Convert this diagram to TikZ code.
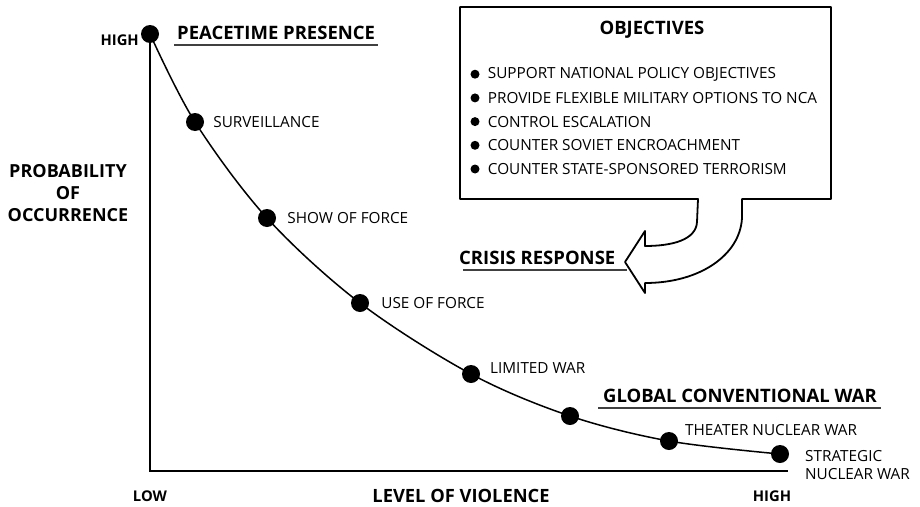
\documentclass[tikz,border=0pt]{standalone}
\usepackage{fontspec}
\setmainfont{Open Sans}
\usetikzlibrary{positioning}

\tikzset{
  dot/.style={circle, fill=black, inner sep=0pt, minimum size=18pt},
  bul/.style={circle, fill=black, inner sep=0pt, minimum size=9pt},
  lbl/.style={font=\fontsize{15.3}{18}\selectfont, inner sep=0pt},
  ttl/.style={font=\bfseries\fontsize{18.5}{22}\selectfont, inner sep=0pt},
  uline/.style={line width=1.1pt, black!75},
}

\begin{document}
\begin{tikzpicture}[x=1pt, y=-1pt]
    \useasboundingbox (0,0) rectangle (920,506);

    % Escalation points
    \node[dot] (high) at (150,34) {};
    \node[dot] (surv) at (195,122) {};
    \node[dot] (show) at (267,218) {};
    \node[dot] (use) at (360,303) {};
    \node[dot] (lim) at (471,374) {};
    \node[dot] (glob) at (570,416) {};
    \node[dot] (thea) at (669,441) {};
    \node[dot] (strat) at (780,454) {};

    % Axes
    \coordinate (origin) at (150,471);
    \coordinate (xend) at (788,471);
    \draw[line width=2pt] (high.center) -- (origin) -- (xend);

    % Curve
    \draw[line width=1.5pt] plot[smooth, tension=0.55] coordinates
        {(high.center) (surv.center) (show.center) (use.center) (lim.center) (glob.center) (thea.center) (strat.center)};

    % Point labels
    \node[lbl, anchor=west, right=9pt of surv] (survlbl) {SURVEILLANCE};
    \node[lbl, anchor=west, right=11pt of show] (showlbl) {SHOW OF FORCE};
    \node[lbl, anchor=west, right=12pt of use] (uselbl) {USE OF FORCE};
    \node[lbl, anchor=west] (limlbl) at (490,368) {LIMITED WAR};
    \node[lbl, anchor=west] (thealbl) at (685,430) {THEATER NUCLEAR WAR};
    \node[lbl, anchor=west, align=left, font=\fontsize{15.3}{17.5}\selectfont] (stratlbl) at (805,465) {STRATEGIC\\NUCLEAR WAR};

    % Phase titles
    \node[ttl, anchor=west] (peace) at (177,33) {PEACETIME PRESENCE};
    \draw[uline] ([xshift=-3pt, yshift=-5pt]peace.south west) -- ([xshift=3pt, yshift=-5pt]peace.south east);
    \node[ttl, anchor=west] (crisis) at (459,258) {CRISIS RESPONSE};
    \draw[uline] ([xshift=4pt, yshift=-5pt]crisis.south west) -- ([xshift=11pt, yshift=-5pt]crisis.south east);
    \node[ttl, anchor=west] (gcw) at (603,396) {GLOBAL CONVENTIONAL WAR};
    \draw[uline] ([xshift=-5pt, yshift=-5pt]gcw.south west) -- ([xshift=4pt, yshift=-5pt]gcw.south east);

    % Axis labels
    \node[ttl, font=\bfseries\fontsize{14.8}{17}\selectfont, anchor=east] (ylow) at (139,40) {HIGH};
    \node[ttl, font=\bfseries\fontsize{14.8}{17}\selectfont] (xlow) at (150,496) {LOW};
    \node[ttl, font=\bfseries\fontsize{14.8}{17}\selectfont] (xhigh) at (772,496) {HIGH};
    \node[ttl, font=\bfseries\fontsize{18.3}{21}\selectfont] (xlbl) at (461,496) {LEVEL OF VIOLENCE};
    \node[ttl, font=\bfseries\fontsize{18}{22}\selectfont, align=center] (ylbl) at (68,193) {PROBABILITY\\OF\\OCCURRENCE};

    % Objectives box with arrow
    \draw[line width=1.8pt, line join=round, fill=white]
        (698,199) -- (460,199) -- (460,7) -- (831,7) -- (831,199) -- (742,199)
        -- (742,218) .. controls (740,255) and (700,283) .. (645,283)
        -- (645,293) -- (625,262) -- (645,231) -- (645,246)
        .. controls (672,246) and (696,240) .. (697,222) -- cycle;
    \node[ttl] (obj) at (652,30) {OBJECTIVES};
    \foreach \t [count=\i] in {SUPPORT NATIONAL POLICY OBJECTIVES, PROVIDE FLEXIBLE MILITARY OPTIONS TO NCA, CONTROL ESCALATION, COUNTER SOVIET ENCROACHMENT, COUNTER STATE-SPONSORED TERRORISM} {
        \node[bul] (b\i) at (475,{50.5+23.7*\i}) {};
        \node[lbl, anchor=west, right=8pt of b\i] (o\i) {\t};
    }
\end{tikzpicture}
\end{document}
